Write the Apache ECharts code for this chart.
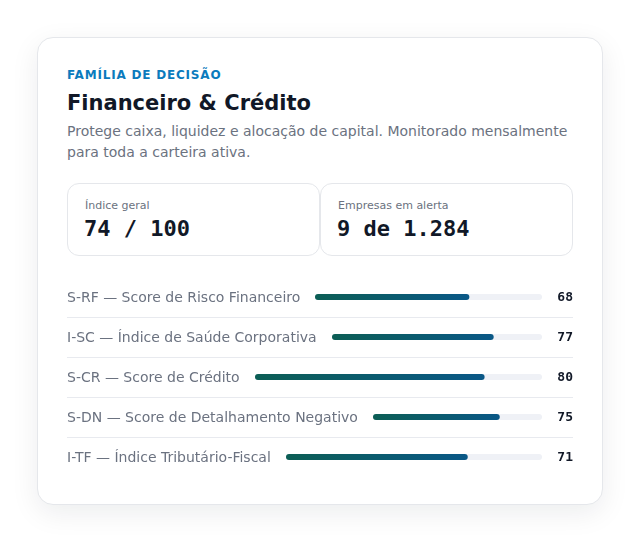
<!DOCTYPE html>
<html><head><meta charset="utf-8">
<script src="https://cdn.jsdelivr.net/npm/echarts@6/dist/echarts.min.js"></script>
<style>
body{margin:0;width:640px;height:542px;background:#fff;font-family:'DejaVu Sans',sans-serif;position:relative;overflow:hidden}
.card{position:absolute;left:37px;top:37px;width:564px;height:466px;border:1px solid #e5e7eb;border-radius:16px;background:#fff;box-shadow:0 8px 28px rgba(15,23,42,0.08)}
.eyebrow{position:absolute;left:67px;top:68px;font-size:12px;font-weight:bold;letter-spacing:0.8px;color:#0b7bbd}
.title{position:absolute;left:67px;top:91px;font-size:21px;font-weight:bold;color:#111827}
.desc{position:absolute;left:67px;top:121px;width:510px;font-size:14px;line-height:21px;color:#6b7280}
.stat{position:absolute;top:183px;height:73px;border:1px solid #e5e7eb;border-radius:12px;box-sizing:border-box}
.stat .k{position:absolute;left:17px;top:15px;font-size:11px;color:#6b7280}
.stat .v{position:absolute;left:16px;top:32px;font-family:'DejaVu Sans Mono',monospace;font-weight:bold;font-size:22px;color:#111827}
.lbl{position:absolute;left:67px;font-size:14px;color:#6b7280;line-height:20px}
.val{position:absolute;right:67px;font-family:'DejaVu Sans Mono',monospace;font-weight:bold;font-size:13px;color:#111827;line-height:20px}
.sep{position:absolute;left:67px;width:506px;height:1px;background:#e8eaef}
#chart{position:absolute;left:67px;top:277px;width:506px;height:200px}
</style></head><body>
<div class="card"></div>
<div class="eyebrow">FAMÍLIA DE DECISÃO</div>
<div class="title">Financeiro &amp; Crédito</div>
<div class="desc">Protege caixa, liquidez e alocação de capital. Monitorado mensalmente para toda a carteira ativa.</div>
<div class="stat" style="left:67px;width:253px"><div class="k">Índice geral</div><div class="v">74 / 100</div></div>
<div class="stat" style="left:320px;width:253px"><div class="k">Empresas em alerta</div><div class="v">9 de 1.284</div></div>
<div id="chart"></div>
<script>
var labels = ['S-RF — Score de Risco Financeiro', 'I-SC — Índice de Saúde Corporativa', 'S-CR — Score de Crédito', 'S-DN — Score de Detalhamento Negativo', 'I-TF — Índice Tributário-Fiscal'];
var scores = [68, 77, 80, 75, 71];

var ctx = document.createElement('canvas').getContext('2d');
ctx.font = "14px 'DejaVu Sans'";
var grids = [], xAxes = [], yAxes = [], series = [];
for (var i = 0; i < labels.length; i++) {
    var cy = 20 + 40 * i;
    var l = document.createElement('div');
    l.className = 'lbl'; l.style.top = (277 + cy - 10) + 'px'; l.textContent = labels[i];
    document.body.appendChild(l);
    var v = document.createElement('div');
    v.className = 'val'; v.style.top = (277 + cy - 10) + 'px'; v.textContent = scores[i];
    document.body.appendChild(v);
    if (i < labels.length - 1) {
        var s = document.createElement('div');
        s.className = 'sep'; s.style.top = (277 + cy + 20) + 'px';
        document.body.appendChild(s);
    }
    grids.push({ left: Math.round(ctx.measureText(labels[i]).width) + 15, right: 31, top: cy - 3, height: 6 });
    xAxes.push({ gridIndex: i, type: 'value', min: 0, max: 100, show: false });
    yAxes.push({ gridIndex: i, type: 'category', data: [labels[i]], show: false });
    series.push({
        type: 'bar', xAxisIndex: i, yAxisIndex: i, data: [scores[i]], barWidth: 6,
        showBackground: true,
        backgroundStyle: { color: '#eff1f6', borderRadius: 3 },
        itemStyle: {
            borderRadius: 3,
            color: new echarts.graphic.LinearGradient(0, 0, 1, 0, [
                { offset: 0, color: '#0c5e55' }, { offset: 1, color: '#0a5887' }
            ])
        },
        silent: true
    });
}
var chart = echarts.init(document.getElementById('chart'));
chart.setOption({ animation: false, grid: grids, xAxis: xAxes, yAxis: yAxes, series: series });
</script>
</body></html>
